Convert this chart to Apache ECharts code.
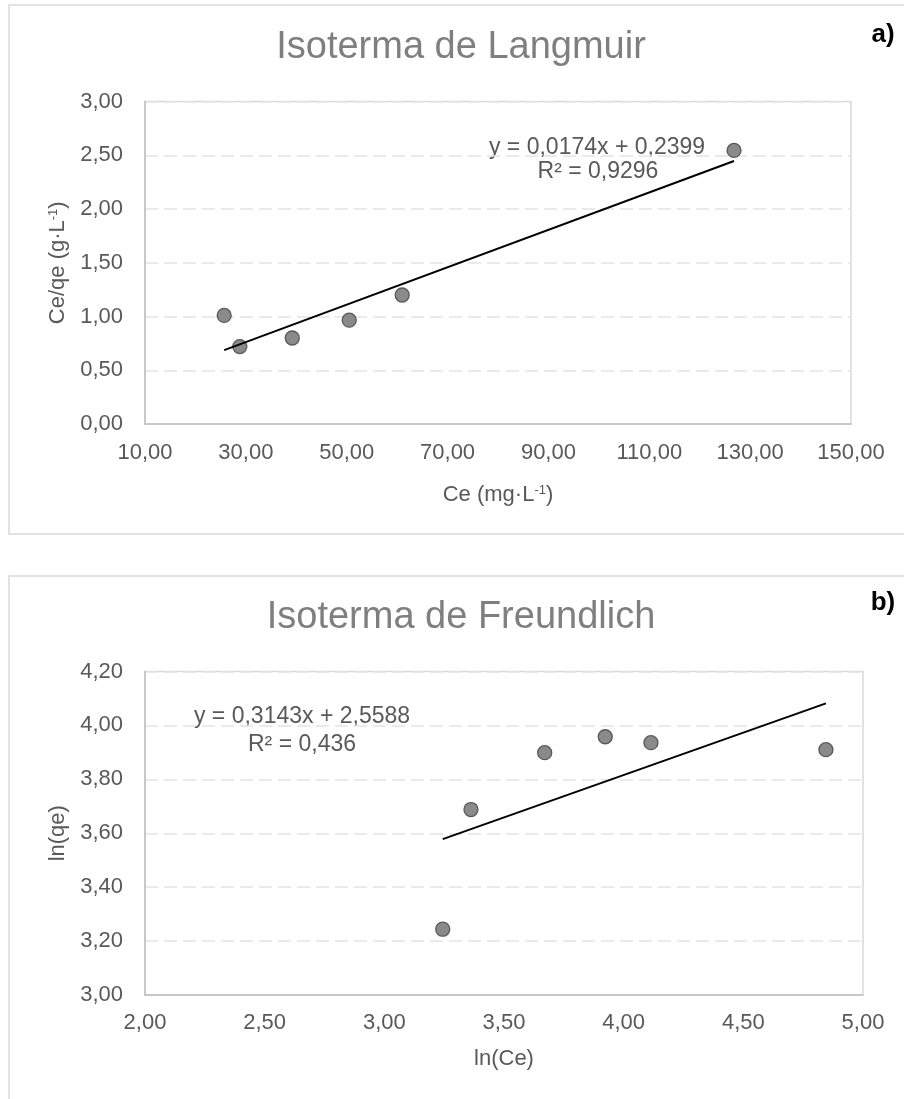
<!DOCTYPE html>
<html>
<head>
<meta charset="utf-8">
<script src="https://cdn.jsdelivr.net/npm/echarts@6/dist/echarts.min.js"></script>
<style>
  html, body { margin: 0; padding: 0; background: #fff; }
  #chart { width: 904px; height: 1099px; }
</style>
</head>
<body>
<div id="chart"></div>
<script>
// Langmuir isotherm: Ce (mg·L-1) vs Ce/qe (g·L-1)
const langmuirCe = [25.7, 28.8, 39.2, 50.5, 61.0, 126.8];
const langmuirCeQe = [1.01, 0.72, 0.80, 0.966, 1.20, 2.545];
const langmuirFit = [0.0174, 0.2399];   // slope, intercept
const langmuirR2 = '0,9296';

// Freundlich isotherm: ln(Ce) vs ln(qe)
const freundlichLnCe = [3.244, 3.362, 3.670, 3.923, 4.114, 4.845];
const freundlichLnQe = [3.244, 3.688, 3.899, 3.958, 3.936, 3.910];
const freundlichFit = [0.3143, 2.5588];
const freundlichR2 = '0,436';

// Axis ranges and tick steps
const langmuirX = [10, 150, 20];
const langmuirY = [0, 3, 0.5];
const freundlichX = [2, 5, 0.5];
const freundlichY = [3, 4.2, 0.2];

const FONT = '"Liberation Sans", Arial, sans-serif';
const TICK = '#595959';
const comma = (v, d) => v.toFixed(d).replace('.', ',');

function pairs(xs, ys) { return xs.map((x, i) => [x, ys[i]]); }
function fitLine(xs, coef) {
  const lo = Math.min(...xs), hi = Math.max(...xs);
  return [[lo, coef[0] * lo + coef[1]], [hi, coef[0] * hi + coef[1]]];
}

function valueAxis(range, gridIndex, extra) {
  return Object.assign({
    type: 'value', gridIndex,
    min: range[0], max: range[1], interval: range[2],
    axisLine: { show: true, lineStyle: { color: '#bfbfbf', width: 1.5 } },
    axisTick: { show: false },
    axisLabel: { color: TICK, fontSize: 22, fontFamily: FONT, formatter: v => comma(v, 2) },
    nameLocation: 'middle',
    nameTextStyle: { color: TICK, fontSize: 22, fontFamily: FONT,
      rich: { s: { fontSize: 13, verticalAlign: 'top', color: TICK, fontFamily: FONT, padding: [0, 0, 8, 0] },
              n: { fontSize: 22, color: TICK, fontFamily: FONT } } }
  }, extra);
}

const gridLines = { show: true, lineStyle: { color: '#e3e3e3', width: 1.5, type: [13, 6] } };

const option = {
  animation: false,
  backgroundColor: '#ffffff',
  grid: [
    { left: 145, top: 101.5, right: 53, bottom: 675, show: true, borderColor: '#d9d9d9', borderWidth: 1.5 },
    { left: 145, top: 671.5, right: 41, bottom: 104, show: true, borderColor: '#d9d9d9', borderWidth: 1.5 }
  ],
  xAxis: [
    valueAxis(langmuirX, 0, { name: '{n|Ce (mg·L}{s|-1}{n|)}', nameGap: 60,
      splitLine: { show: false }, axisLabel: { color: TICK, fontSize: 22, fontFamily: FONT, margin: 18, formatter: v => comma(v, 2) } }),
    valueAxis(freundlichX, 1, { name: 'ln(Ce)', nameGap: 53,
      splitLine: { show: false }, axisLabel: { color: TICK, fontSize: 22, fontFamily: FONT, margin: 17, formatter: v => comma(v, 2) } })
  ],
  yAxis: [
    valueAxis(langmuirY, 0, { name: '{n|Ce/qe (g·L}{s|-1}{n|)}', nameGap: 76, splitLine: gridLines,
      axisLabel: { color: TICK, fontSize: 22, fontFamily: FONT, margin: 22, formatter: v => comma(v, 2) } }),
    valueAxis(freundlichY, 1, { name: 'ln(qe)', nameGap: 76, splitLine: gridLines,
      axisLabel: { color: TICK, fontSize: 22, fontFamily: FONT, margin: 22, formatter: v => comma(v, 2) } })
  ],
  series: [
    { type: 'scatter', xAxisIndex: 0, yAxisIndex: 0, data: pairs(langmuirCe, langmuirCeQe),
      symbolSize: 14, itemStyle: { color: '#8a8a8a', borderColor: '#595959', borderWidth: 1.3, opacity: 1 }, z: 3 },
    { type: 'line', xAxisIndex: 0, yAxisIndex: 0, data: fitLine(langmuirCe, langmuirFit),
      symbol: 'none', lineStyle: { color: '#000', width: 2 }, z: 4 },
    { type: 'scatter', xAxisIndex: 1, yAxisIndex: 1, data: pairs(freundlichLnCe, freundlichLnQe),
      symbolSize: 14, itemStyle: { color: '#8a8a8a', borderColor: '#595959', borderWidth: 1.3, opacity: 1 }, z: 3 },
    { type: 'line', xAxisIndex: 1, yAxisIndex: 1, data: fitLine(freundlichLnCe, freundlichFit),
      symbol: 'none', lineStyle: { color: '#000', width: 2 }, z: 4 }
  ],
  graphic: [
    // chart frames
    { type: 'rect', shape: { x: 9, y: 5, width: 904, height: 529 },
      style: { fill: 'none', stroke: '#d9d9d9', lineWidth: 1.5 }, silent: true, z: -1 },
    { type: 'rect', shape: { x: 9, y: 576, width: 904, height: 530 },
      style: { fill: 'none', stroke: '#d9d9d9', lineWidth: 1.5 }, silent: true, z: -1 },
    // titles
    { type: 'text', x: 461, y: 48, style: { text: 'Isoterma de Langmuir', fill: '#7f7f7f',
      font: '38px ' + FONT, textAlign: 'center', textVerticalAlign: 'middle' } },
    { type: 'text', x: 461, y: 618, style: { text: 'Isoterma de Freundlich', fill: '#7f7f7f',
      font: '38px ' + FONT, textAlign: 'center', textVerticalAlign: 'middle' } },
    // panel letters
    { type: 'text', x: 883, y: 35, style: { text: 'a)', fill: '#000',
      font: 'bold 26px ' + FONT, textAlign: 'center', textVerticalAlign: 'middle' } },
    { type: 'text', x: 883, y: 603, style: { text: 'b)', fill: '#000',
      font: 'bold 26px ' + FONT, textAlign: 'center', textVerticalAlign: 'middle' } },
    // regression equations
    { type: 'text', x: 597, y: 148, style: {
      text: 'y = ' + comma(langmuirFit[0], 4) + 'x + ' + comma(langmuirFit[1], 4),
      fill: TICK, font: '23px ' + FONT, textAlign: 'center', textVerticalAlign: 'middle' } },
    { type: 'text', x: 598, y: 172, style: { text: 'R² = ' + langmuirR2,
      fill: TICK, font: '23px ' + FONT, textAlign: 'center', textVerticalAlign: 'middle' } },
    { type: 'text', x: 302, y: 717, style: {
      text: 'y = ' + comma(freundlichFit[0], 4) + 'x + ' + comma(freundlichFit[1], 4),
      fill: TICK, font: '23px ' + FONT, textAlign: 'center', textVerticalAlign: 'middle' } },
    { type: 'text', x: 302, y: 745, style: { text: 'R² = ' + freundlichR2,
      fill: TICK, font: '23px ' + FONT, textAlign: 'center', textVerticalAlign: 'middle' } }
  ]
};

const chart = echarts.init(document.getElementById('chart'), null, { renderer: 'canvas' });
chart.setOption(option);
</script>
</body>
</html>
